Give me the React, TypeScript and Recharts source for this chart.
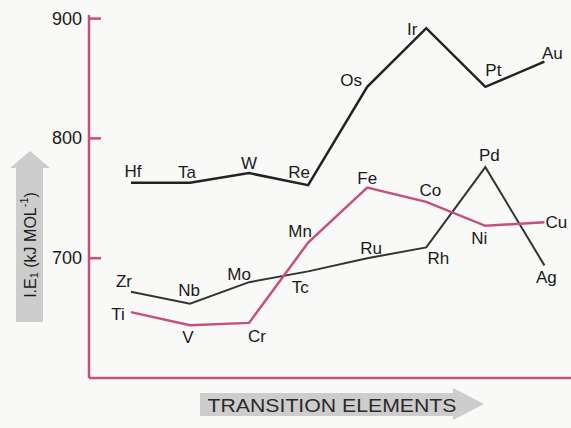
import { LabelList, Line, LineChart, XAxis, YAxis } from "recharts";

// element columns (group position 4..11)
const elements3d = ["Ti", "V", "Cr", "Mn", "Fe", "Co", "Ni", "Cu"];
const elements4d = ["Zr", "Nb", "Mo", "Tc", "Ru", "Rh", "Pd", "Ag"];
const elements5d = ["Hf", "Ta", "W", "Re", "Os", "Ir", "Pt", "Au"];

// first ionisation energies, kJ/mol
const ie3d = [655, 644, 646, 713, 759, 747, 727, 730];
const ie4d = [672, 662, 680, 689, 700, 709, 776, 694];
const ie5d = [763, 763, 771, 761, 843, 892, 843, 864];

const yTicks = [700, 800, 900];

const PINK = "#c4507f";
const INK = "#222";
const FONT = "'Liberation Sans', Arial, sans-serif";

// where each element's name sits relative to its point
const labelOffsets: Record<string, [number, number]> = {
    Ti: [-13, 2], V: [-2, 12], Cr: [8, 14], Mn: [-8, -11], Fe: [0, -9], Co: [4, -11], Ni: [-6, 13], Cu: [12, 0],
    Zr: [-7, -10], Nb: [-1, -13], Mo: [-10, -8], Tc: [-8, 16], Ru: [4, -10], Rh: [12, 11], Pd: [4, -12], Ag: [2, 12],
    Hf: [2, -11], Ta: [-3, -10], W: [0, -10], Re: [-9, -13], Os: [-16, -6], Ir: [-14, 1], Pt: [8, -16], Au: [8, -8],
};

const data = elements3d.map((_, i) => ({
    idx: i,
    d3: ie3d[i],
    d4: ie4d[i],
    d5: ie5d[i],
}));

function makeLabel(names: string[]) {
    return (props: any) => {
        const name = names[props.index];
        const [dx, dy] = labelOffsets[name] ?? [0, -10];
        return (
            <text
                x={Number(props.x) + dx}
                y={Number(props.y) + dy}
                textAnchor="middle"
                dominantBaseline="central"
                fontFamily={FONT}
                fontSize={17}
                fill="#1a1a1a"
            >
                {name}
            </text>
        );
    };
}

function YTick(props: any) {
    const { x, y, payload } = props;
    const axisX = x + 6;
    return (
        <g>
            <line x1={axisX} x2={axisX + 12} y1={y} y2={y} stroke={PINK} strokeWidth={2.5} />
            <text x={x - 1} y={y} textAnchor="end" dominantBaseline="central" fontFamily={FONT} fontSize={18} fill="#1a1a1a">
                {payload.value}
            </text>
        </g>
    );
}

export default function App() {
    return (
        <div style={{ position: "absolute", left: 0, top: 0, width: 571, height: 428, background: "#f9f9f7" }}>
            <LineChart width={571} height={428} data={data} margin={{ top: 15, right: 0, bottom: 49, left: 0 }}>
                <XAxis
                    dataKey="idx"
                    type="number"
                    domain={[-0.71, 7.45]}
                    allowDataOverflow
                    tick={false}
                    tickLine={false}
                    height={1}
                    axisLine={{ stroke: PINK, strokeWidth: 2.5 }}
                />
                <YAxis
                    type="number"
                    domain={[600, 903]}
                    ticks={yTicks}
                    width={89}
                    tickSize={0}
                    tickMargin={6}
                    tickLine={false}
                    tick={<YTick />}
                    axisLine={{ stroke: PINK, strokeWidth: 2.5 }}
                />
                <Line dataKey="d5" stroke={INK} strokeWidth={2.5} dot={false} isAnimationActive={false} strokeLinejoin="miter">
                    <LabelList dataKey="d5" content={makeLabel(elements5d)} />
                </Line>
                <Line dataKey="d4" stroke="#333" strokeWidth={2} dot={false} isAnimationActive={false} strokeLinejoin="miter">
                    <LabelList dataKey="d4" content={makeLabel(elements4d)} />
                </Line>
                <Line dataKey="d3" stroke={PINK} strokeWidth={2.5} dot={false} isAnimationActive={false} strokeLinejoin="miter">
                    <LabelList dataKey="d3" content={makeLabel(elements3d)} />
                </Line>
            </LineChart>

            {/* axis captions drawn as shaded arrows, as in the printed figure */}
            <svg width={571} height={428} style={{ position: "absolute", left: 0, top: 0, pointerEvents: "none" }}>
                <polygon points="10,168 30,151 50,168 43,168 43,322 16,322 16,168" fill="#cdcdcd" />
                <text
                    x={30}
                    y={245}
                    transform="rotate(-90 30 245)"
                    textAnchor="middle"
                    dominantBaseline="central"
                    fontFamily={FONT}
                    fontSize={16}
                    fill="#1a1a1a"
                >
                    I.E<tspan fontSize={11} dy={4}>1</tspan>
                    <tspan dy={-4}> (kJ MOL</tspan>
                    <tspan fontSize={11} dy={-6}>-1</tspan>
                    <tspan dy={6}>)</tspan>
                </text>
                <polygon points="200,393 453,393 453,388 484,404 453,420 453,416 200,416" fill="#cdcdcd" />
                <text
                    x={332}
                    y={405}
                    textAnchor="middle"
                    dominantBaseline="central"
                    fontFamily={FONT}
                    fontSize={19}
                    textLength={249}
                    lengthAdjust="spacingAndGlyphs"
                    fill="#2a2a2a"
                >
                    TRANSITION ELEMENTS
                </text>
            </svg>
        </div>
    );
}
